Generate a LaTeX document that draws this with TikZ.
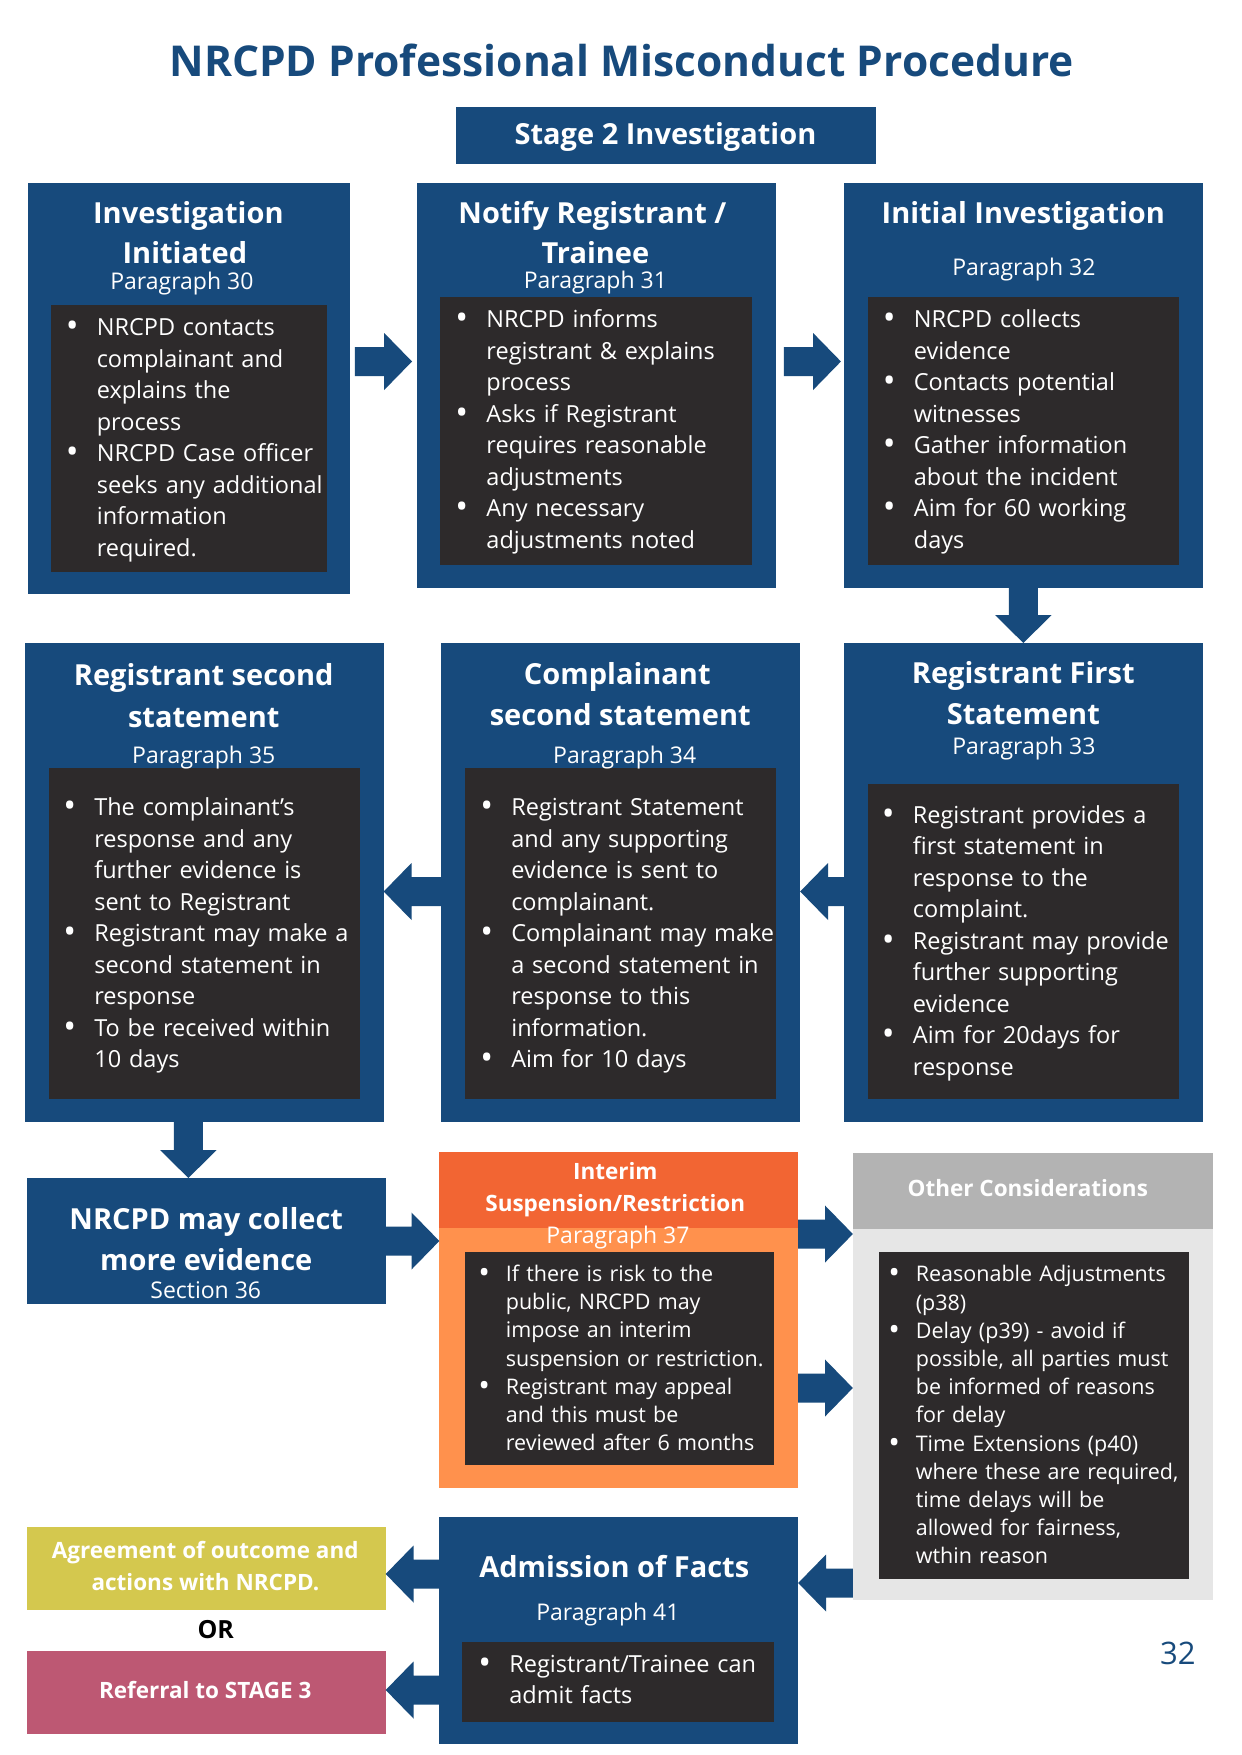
\documentclass[tikz,border=0pt]{standalone}
\usepackage{fontspec}
\setmainfont{Open Sans}
\usetikzlibrary{calc}
\definecolor{nblue}{HTML}{174A7C}
\definecolor{ndark}{HTML}{2D2A2B}
\definecolor{norange}{HTML}{F26533}
\definecolor{nlorange}{HTML}{FF914D}
\definecolor{ngrey}{HTML}{B3B3B3}
\definecolor{nlgrey}{HTML}{E6E6E6}
\definecolor{nyellow}{HTML}{D4C84E}
\definecolor{npink}{HTML}{BD5873}
\newlength\bind
\newcommand\bitem[1]{\par\noindent\hangindent=\bind\hangafter=1\strut\makebox[\bind][l]{\raisebox{-2pt}{\scalebox{1.45}{\textbullet}}}#1\par}
\newcommand\rarrow[5]{%
  \coordinate (ay) at (0,#3);
  \coordinate (S) at ($(#1.east |- ay)+(#4,0)$);
  \coordinate (T) at ($(#2.west |- ay)+(-#5,0)$);
  \fill[nblue] ($(S)+(0,-14.5)$) -- ($(T)+(-28,-14.5)$) -- ($(T)+(-28,-28.5)$) -- (T)
     -- ($(T)+(-28,28.5)$) -- ($(T)+(-28,14.5)$) -- ($(S)+(0,14.5)$) -- cycle;}
\newcommand\larrow[3]{%
  \coordinate (ay) at (0,#3);
  \coordinate (S) at (#1.west |- ay);
  \coordinate (T) at (#2.east |- ay);
  \fill[nblue] ($(S)+(0,-14.5)$) -- ($(T)+(28,-14.5)$) -- ($(T)+(28,-28.5)$) -- (T)
     -- ($(T)+(28,28.5)$) -- ($(T)+(28,14.5)$) -- ($(S)+(0,14.5)$) -- cycle;}
\newcommand\darrow[3]{%
  \coordinate (ax) at (#3,0);
  \coordinate (S) at (ax |- #1.south);
  \coordinate (T) at (ax |- #2.north);
  \fill[nblue] ($(S)+(-14.5,0)$) -- ($(T)+(-14.5,-28)$) -- ($(T)+(-28.5,-28)$) -- (T)
     -- ($(T)+(28.5,-28)$) -- ($(T)+(14.5,-28)$) -- ($(S)+(14.5,0)$) -- cycle;}
\tikzset{
  boxc/.style={fill=#1, draw=none, anchor=north west, inner sep=0pt, outer sep=0pt},
  hd/.style={anchor=base, text=white, inner sep=0pt, font=\fontsize{29}{39}\selectfont\bfseries},
  shd/.style={anchor=base, text=white, inner sep=0pt, font=\fontsize{22.5}{30}\selectfont\bfseries},
  para/.style={anchor=base, text=white, inner sep=0pt, font=\fontsize{23}{30}\selectfont},
  body/.style={anchor=north west, text=white, inner sep=0pt, text width=340pt,
    font=\fontsize{23.5}{31.5}\selectfont, execute at begin node={\setlength\bind{31pt}\setlength\parskip{0pt}}},
  sbody/.style={anchor=north west, text=white, inner sep=0pt, text width=340pt,
    font=\fontsize{21.5}{28.2}\selectfont, execute at begin node={\setlength\bind{27.5pt}\setlength\parskip{0pt}}},
}
\begin{document}
\begin{tikzpicture}[x=0.994pt,y=-1pt]
\useasboundingbox (0,0) rectangle (1248.5,1755);
\fill[white] (0,0) rectangle (1248.5,1755);
% title
\node[anchor=base, inner sep=0pt, text=nblue, font=\fontsize{42.5}{50}\selectfont\bfseries] (title) at (625.5,76.7) {NRCPD Professional Misconduct Procedure};
\node[boxc=nblue, minimum width=0.994*422, minimum height=57] (stage) at (459,107) {};
\node[hd] (stagetxt) at (669.5,145) {Stage 2 Investigation};
% row 1
\node[boxc=nblue, minimum width=0.994*324, minimum height=411] (A) at (28,183) {};
\node[boxc=nblue, minimum width=0.994*361, minimum height=404.5] (B) at (419.5,183) {};
\node[boxc=nblue, minimum width=0.994*361.5, minimum height=404.5] (C) at (849,183) {};
\node[boxc=ndark, minimum width=0.994*278, minimum height=267] (Ai) at (51,305) {};
\node[boxc=ndark, minimum width=0.994*314, minimum height=268] (Bi) at (443,297) {};
\node[boxc=ndark, minimum width=0.994*313.5, minimum height=268] (Ci) at (873,297) {};
\node[hd] (Ah1) at (189.5,223) {Investigation};
\node[hd] (Ah2) at (186,263) {Initiated};
\node[para] (Ap) at (183,289) {Paragraph 30};
\node[hd] (Bh1) at (596,223) {Notify Registrant /};
\node[hd] (Bh2) at (599,263) {Trainee};
\node[para] (Bp) at (599,288.5) {Paragraph 31};
\node[hd] (Ch1) at (1029.5,223) {Initial Investigation};
\node[para] (Cp) at (1030,275) {Paragraph 32};
\node[body] (At) at (66,304) {\bitem{NRCPD contacts\newline complainant and\newline explains the\newline process}\bitem{NRCPD Case officer\newline seeks any additional\newline information\newline required.}};
\node[body] (Bt) at (458,296) {\bitem{NRCPD informs\newline registrant \& explains\newline process}\bitem{Asks if Registrant\newline requires reasonable\newline adjustments}\bitem{Any necessary\newline adjustments noted}};
\node[body] (Ct) at (888,296) {\bitem{NRCPD collects\newline evidence}\bitem{Contacts potential\newline witnesses}\bitem{Gather information\newline about the incident}\bitem{Aim for 60 working\newline days}};
% row 2
\node[boxc=nblue, minimum width=0.994*361, minimum height=479] (D) at (25,643) {};
\node[boxc=nblue, minimum width=0.994*361, minimum height=479] (E) at (444,643) {};
\node[boxc=nblue, minimum width=0.994*361, minimum height=479] (F) at (849,643) {};
\node[boxc=ndark, minimum width=0.994*313, minimum height=331] (Di) at (49,768) {};
\node[boxc=ndark, minimum width=0.994*313, minimum height=331] (Ei) at (468,768) {};
\node[boxc=ndark, minimum width=0.994*313, minimum height=315] (Fi) at (873,784) {};
\node[hd] (Dh1) at (205,685) {Registrant second};
\node[hd] (Dh2) at (205,727) {statement};
\node[para] (Dp) at (205,763.5) {Paragraph 35};
\node[hd] (Eh1) at (621,684.5) {Complainant};
\node[hd] (Eh2) at (624,725) {second statement};
\node[para] (Ep) at (628.5,763.5) {Paragraph 34};
\node[hd] (Fh1) at (1029.5,683) {Registrant First};
\node[hd] (Fh2) at (1029.5,724) {Statement};
\node[para] (Fp) at (1030,754) {Paragraph 33};
\node[body] (Dt) at (63.5,784) {\bitem{The complainant’s\newline response and any\newline further evidence is\newline sent to Registrant}\bitem{Registrant may make a\newline second statement in\newline response}\bitem{To be received within\newline 10 days}};
\node[body] (Et) at (483,784) {\bitem{Registrant Statement\newline and any supporting\newline evidence is sent to\newline complainant.}\bitem{Complainant may make\newline a second statement in\newline response to this\newline information.}\bitem{Aim for 10 days}};
\node[body] (Ft) at (887,791.5) {\bitem{Registrant provides a\newline first statement in\newline response to the\newline complaint.}\bitem{Registrant may provide\newline further supporting\newline evidence}\bitem{Aim for 20days for\newline response}};
% row 3
\node[boxc=nblue, minimum width=0.994*361, minimum height=126] (G) at (27,1178) {};
\node[hd] (Gh1) at (207.5,1229.5) {NRCPD may collect};
\node[hd] (Gh2) at (207.5,1270) {more evidence};
\node[para] (Gp) at (207,1298.5) {Section 36};
\node[boxc=nlorange, minimum width=0.994*361, minimum height=336] (H) at (442,1152) {};
\node[boxc=norange, minimum width=0.994*361, minimum height=76] (Hh) at (442,1152) {};
\node[boxc=ndark, minimum width=0.994*311, minimum height=213] (Hi) at (468,1252) {};
\node[shd] (Hh1) at (619,1179.5) {Interim};
\node[shd] (Hh2) at (619,1211.5) {Suspension/Restriction};
\node[para] (Hp) at (621.7,1243) {Paragraph 37};
\node[sbody] (Ht) at (481,1253) {\bitem{If there is risk to the\newline public, NRCPD may\newline impose an interim\newline suspension or restriction.}\bitem{Registrant may appeal\newline and this must be\newline reviewed after 6 months}};
\node[boxc=nlgrey, minimum width=0.994*362, minimum height=447] (I) at (858,1153) {};
\node[boxc=ngrey, minimum width=0.994*362, minimum height=76] (Ih) at (858,1153) {};
\node[boxc=ndark, minimum width=0.994*312, minimum height=327] (Ii) at (884,1252) {};
\node[shd] (Ih1) at (1034,1196) {Other Considerations};
\node[sbody] (It) at (893.5,1253.5) {\bitem{Reasonable Adjustments\newline (p38)}\bitem{Delay (p39) - avoid if\newline possible, all parties must\newline be informed of reasons\newline for delay}\bitem{Time Extensions (p40)\newline where these are required,\newline time delays will be\newline allowed for fairness,\newline wthin reason}};
% row 4
\node[boxc=nblue, minimum width=0.994*361, minimum height=227] (J) at (442,1517) {};
\node[boxc=ndark, minimum width=0.994*314, minimum height=80] (Ji) at (465,1642) {};
\node[hd] (Jh1) at (618,1577) {Admission of Facts};
\node[para] (Jp) at (611.6,1620) {Paragraph 41};
\node[body] (Jt) at (481,1640.5) {\bitem{Registrant/Trainee can\newline admit facts}};
\node[boxc=nyellow, minimum width=0.994*361, minimum height=83] (K) at (27,1527) {};
\node[shd] (Kh1) at (206.5,1558) {Agreement of outcome and};
\node[shd] (Kh2) at (206.7,1590) {actions with NRCPD.};
\node[anchor=base, inner sep=0pt, text=black, font=\fontsize{25}{30}\selectfont\bfseries] (or) at (217,1638) {OR};
\node[boxc=npink, minimum width=0.994*361, minimum height=83] (L) at (27,1651) {};
\node[shd] (Lh1) at (206.5,1698) {Referral to STAGE 3};
\node[anchor=base, inner sep=0pt, text=nblue, font=\fontsize{31}{36}\selectfont] (pg) at (1185,1664) {32};
% arrows
\rarrow{A}{B}{361.5}{5}{5}
\rarrow{B}{C}{361.5}{8}{3}
\darrow{C}{F}{1029.5}
\larrow{F}{E}{891.5}
\larrow{E}{D}{891.5}
\darrow{D}{G}{189.5}
\rarrow{G}{H}{1241}{0}{0}
\rarrow{H}{I}{1234}{0}{0}
\rarrow{H}{I}{1388}{0}{0}
\larrow{I}{J}{1583}
\larrow{J}{K}{1574}
\larrow{J}{L}{1690}
\end{tikzpicture}
\end{document}
